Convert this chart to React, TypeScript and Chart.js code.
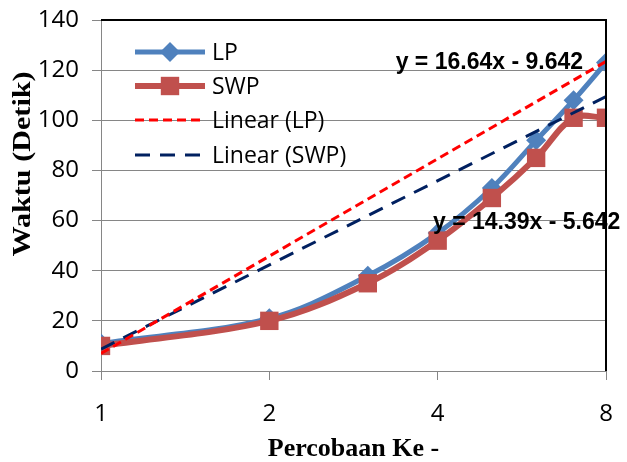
import React, { useEffect, useRef } from 'react';
import { Chart, registerables } from 'chart.js';

Chart.register(...registerables);

// ---- data ----
const trials = [1, 2, 3, 4, 5, 6, 7, 8];
const lpTimes = [11, 21, 38, 55, 73, 92, 108, 123];
const swpTimes = [10, 20, 35, 52, 69, 85, 101, 101];
const xTickValues = [1, 2, 4, 8];
const yMin = 0;
const yMax = 140;
const yStep = 20;
const lpTrend = { slope: 16.64, intercept: -9.642 };
const swpTrend = { slope: 14.39, intercept: -5.642 };
const seriesNames = ['LP', 'SWP', 'Linear (LP)', 'Linear (SWP)'];
const xTitle = 'Percobaan Ke -';
const yTitle = 'Waktu (Detik)';

const BLUE = '#4F81BD';
const RED = '#C0504D';
const TREND_RED = '#FF0000';
const NAVY = '#002060';
const GRID = '#868686';

const eqText = (t: { slope: number; intercept: number }) =>
  `y = ${t.slope}x ${t.intercept < 0 ? '-' : '+'} ${Math.abs(t.intercept)}`;

const trendPoints = (t: { slope: number; intercept: number }) => {
  const x0 = trials[0];
  const x1 = trials[trials.length - 1];
  return [
    { x: x0, y: t.slope * x0 + t.intercept },
    { x: x1, y: t.slope * x1 + t.intercept },
  ];
};

const overlayPlugin = {
  id: 'overlay',
  afterDatasetsDraw(chart: any) {
    const { ctx, chartArea: a } = chart;
    ctx.save();
    // equation labels
    ctx.font = 'bold 23px "Liberation Sans", Arial, sans-serif';
    ctx.fillStyle = '#000';
    ctx.textBaseline = 'middle';
    ctx.textAlign = 'right';
    ctx.fillText(eqText(lpTrend), a.right - 23, a.top + 43);
    ctx.textAlign = 'left';
    ctx.fillText(eqText(swpTrend), a.left + 332, a.top + 203);

    // top / right border
    ctx.strokeStyle = '#000';
    ctx.lineWidth = 2;
    ctx.beginPath();
    ctx.moveTo(a.left, a.top);
    ctx.lineTo(a.right, a.top);
    ctx.lineTo(a.right, a.bottom);
    ctx.stroke();

    // legend
    const rows = [52, 86, 120, 155];
    const lx0 = 135, lx1 = 205, mx = 170, tx = 212;
    const ds = chart.data.datasets;
    const order = [3, 2, 0, 1]; // dataset indices for LP, SWP, Linear(LP), Linear(SWP)
    order.forEach((di: number, i: number) => {
      const d = ds[di];
      const y = rows[i];
      ctx.save();
      ctx.strokeStyle = d.borderColor;
      ctx.lineWidth = d.borderWidth;
      ctx.setLineDash(d.borderDash || []);
      ctx.beginPath();
      ctx.moveTo(lx0, y);
      ctx.lineTo(lx1, y);
      ctx.stroke();
      ctx.setLineDash([]);
      ctx.fillStyle = d.pointBackgroundColor || d.borderColor;
      if (d.pointStyle === 'rectRot') {
        const r = d.pointRadius;
        ctx.beginPath();
        ctx.moveTo(mx, y - r);
        ctx.lineTo(mx + r, y);
        ctx.lineTo(mx, y + r);
        ctx.lineTo(mx - r, y);
        ctx.closePath();
        ctx.fill();
      } else if (d.pointStyle === 'rect') {
        const h = d.pointRadius * Math.SQRT1_2;
        ctx.fillRect(mx - h, y - h, 2 * h, 2 * h);
      }
      ctx.restore();
      ctx.font = '23px "Open Sans", "Liberation Sans", sans-serif';
      ctx.fillStyle = '#000';
      ctx.textAlign = 'left';
      ctx.textBaseline = 'middle';
      ctx.fillText(seriesNames[i], tx, y + 1);
    });

    // axis titles
    ctx.font = 'bold 26px "Liberation Serif", "Times New Roman", serif';
    ctx.fillStyle = '#000';
    ctx.textAlign = 'center';
    ctx.textBaseline = 'alphabetic';
    ctx.fillText(xTitle, (a.left + a.right) / 2, 456);
    ctx.save();
    ctx.translate(30, 164);
    ctx.rotate(-Math.PI / 2);
    ctx.scale(1.16, 1);
    ctx.fillText(yTitle, 0, 0);
    ctx.restore();
    ctx.restore();
  },
};

export default function App() {
  const ref = useRef<HTMLCanvasElement | null>(null);

  useEffect(() => {
    if (!ref.current) return;
    const chart = new Chart(ref.current, {
      type: 'line',
      data: {
        datasets: [
          {
            label: seriesNames[2],
            data: trendPoints(lpTrend),
            borderColor: TREND_RED,
            borderWidth: 3,
            borderDash: [9, 5],
            pointRadius: 0,
            tension: 0,
          } as any,
          {
            label: seriesNames[3],
            data: trendPoints(swpTrend),
            borderColor: NAVY,
            borderWidth: 3,
            borderDash: [15, 10],
            pointRadius: 0,
            tension: 0,
          },
          {
            label: seriesNames[1],
            data: trials.map((x, i) => ({ x, y: swpTimes[i] })),
            borderColor: RED,
            backgroundColor: RED,
            pointBackgroundColor: RED,
            borderWidth: 6,
            pointStyle: 'rect',
            pointRadius: 13,
            pointBorderWidth: 0,
            tension: 0.35,
          },
          {
            label: seriesNames[0],
            data: trials.map((x, i) => ({ x, y: lpTimes[i] })),
            borderColor: BLUE,
            backgroundColor: BLUE,
            pointBackgroundColor: BLUE,
            borderWidth: 5,
            pointStyle: 'rectRot',
            pointRadius: 10,
            pointBorderWidth: 0,
            tension: 0.35,
          },
        ],
      },
      options: {
        responsive: false,
        animation: false,
        layout: { padding: { top: 20, right: 21, left: 0, bottom: 0 } },
        plugins: { legend: { display: false }, tooltip: { enabled: false } },
        scales: {
          x: {
            type: 'logarithmic',
            min: xTickValues[0],
            max: xTickValues[xTickValues.length - 1],
            afterBuildTicks: (s: any) => {
              s.ticks = xTickValues.map((v) => ({ value: v }));
            },
            afterFit: (s: any) => {
              s.height = 91;
              s.paddingLeft = 0;
              s.paddingRight = 0;
            },
            grid: { drawOnChartArea: false, drawTicks: true, tickLength: 9, color: GRID, lineWidth: 1 },
            border: { display: true, color: GRID, width: 1 },
            ticks: {
              callback: (v: any) => String(v),
              autoSkip: false,
              maxRotation: 0,
              padding: 20,
              color: '#000',
              font: { family: '"Open Sans", "Liberation Sans", sans-serif', size: 24 },
            },
          },
          y: {
            min: yMin,
            max: yMax,
            afterFit: (s: any) => {
              s.width = 101;
              s.paddingTop = 0;
              s.paddingBottom = 0;
            },
            grid: { color: GRID, lineWidth: 1, tickLength: 9 },
            border: { color: GRID, width: 1 },
            ticks: {
              stepSize: yStep,
              padding: 13,
              color: '#000',
              font: { family: '"Open Sans", "Liberation Sans", sans-serif', size: 24 },
            },
          },
        },
      },
      plugins: [overlayPlugin],
    });
    return () => chart.destroy();
  }, []);

  return (
    <div style={{ position: 'absolute', left: 0, top: 0, width: 627, height: 462, background: '#fff' }}>
      <canvas ref={ref} width={627} height={462} style={{ width: 627, height: 462 }} />
    </div>
  );
}
